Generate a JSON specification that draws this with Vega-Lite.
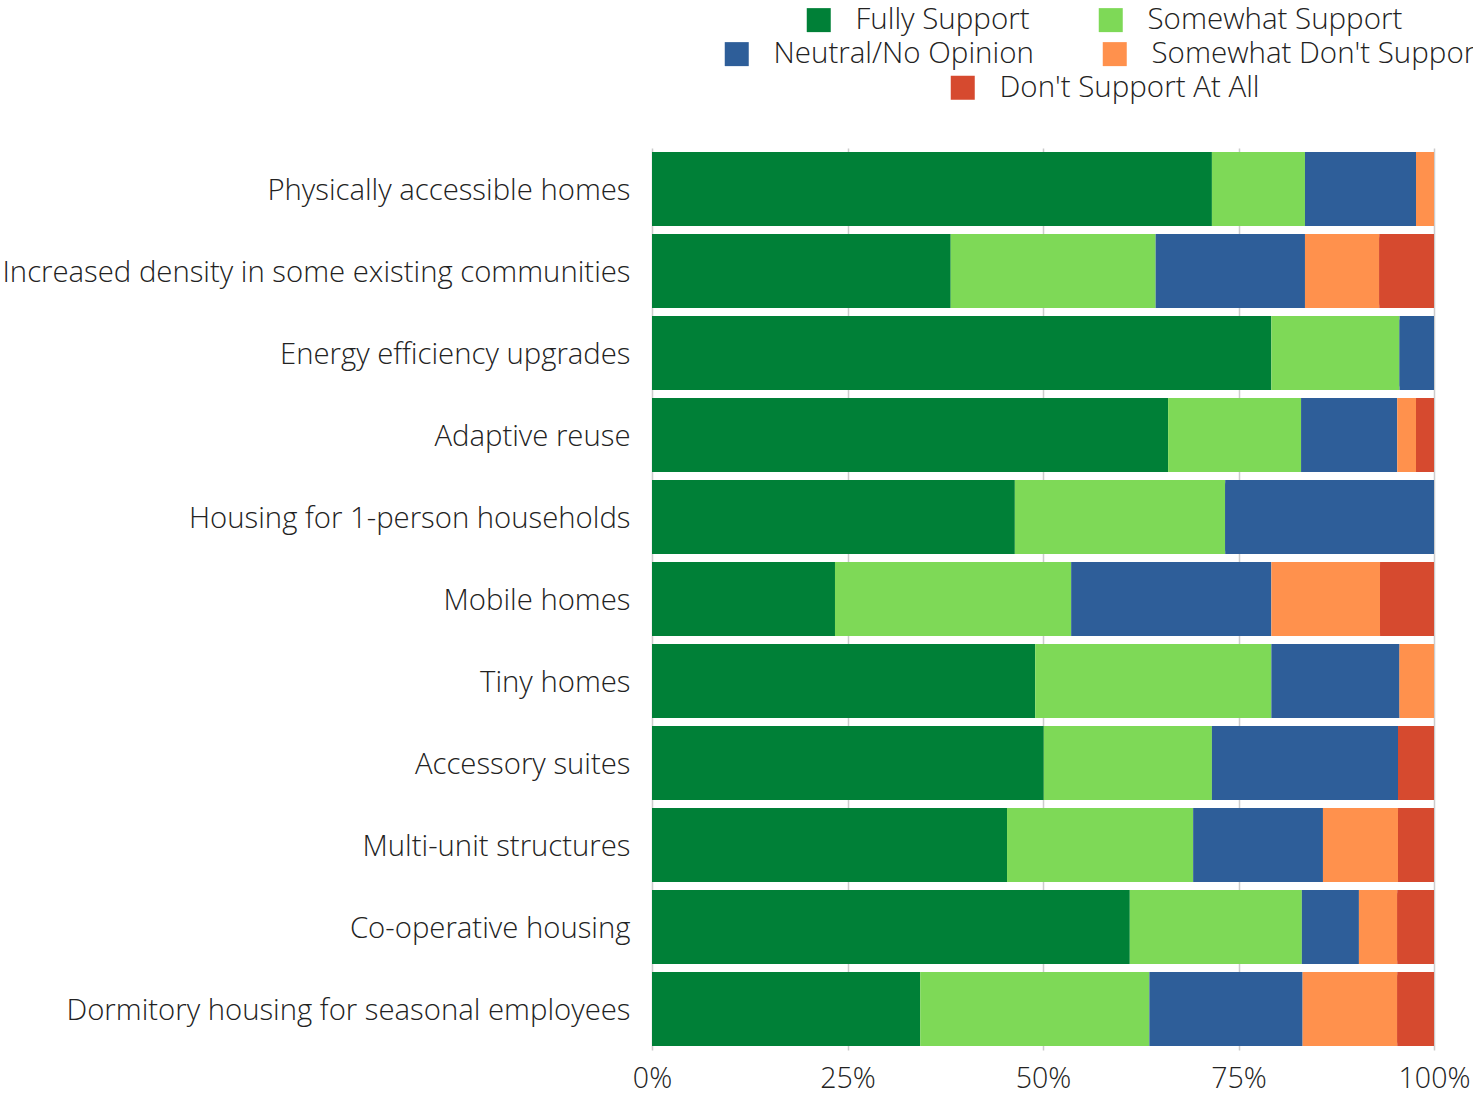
{
  "$schema": "https://vega.github.io/schema/vega-lite/v6.json",
  "autosize": {"type": "none"},
  "width": 782,
  "height": 902,
  "padding": {"left": 652, "top": 148, "right": 39, "bottom": 46},
  "background": "white",
  "config": {
    "view": {"stroke": null},
    "font": "Open Sans",
    "axis": {"labelFont": "Open Sans", "labelFontWeight": 300, "labelColor": "#222222"},
    "legend": {"labelFont": "Open Sans", "labelFontWeight": 300, "labelColor": "#222222"}
  },
  "data": {
    "values": [
      {"item": "Physically accessible homes", "resp": "Fully Support", "ord": 1, "pct": 71.6},
      {"item": "Physically accessible homes", "resp": "Somewhat Support", "ord": 2, "pct": 11.9},
      {"item": "Physically accessible homes", "resp": "Neutral/No Opinion", "ord": 3, "pct": 14.2},
      {"item": "Physically accessible homes", "resp": "Somewhat Don't Support", "ord": 4, "pct": 2.3},
      {"item": "Increased density in some existing communities", "resp": "Fully Support", "ord": 1, "pct": 38.2},
      {"item": "Increased density in some existing communities", "resp": "Somewhat Support", "ord": 2, "pct": 26.2},
      {"item": "Increased density in some existing communities", "resp": "Neutral/No Opinion", "ord": 3, "pct": 19.1},
      {"item": "Increased density in some existing communities", "resp": "Somewhat Don't Support", "ord": 4, "pct": 9.5},
      {"item": "Increased density in some existing communities", "resp": "Don't Support At All", "ord": 5, "pct": 7.0},
      {"item": "Energy efficiency upgrades", "resp": "Fully Support", "ord": 1, "pct": 79.2},
      {"item": "Energy efficiency upgrades", "resp": "Somewhat Support", "ord": 2, "pct": 16.4},
      {"item": "Energy efficiency upgrades", "resp": "Neutral/No Opinion", "ord": 3, "pct": 4.4},
      {"item": "Adaptive reuse", "resp": "Fully Support", "ord": 1, "pct": 66.0},
      {"item": "Adaptive reuse", "resp": "Somewhat Support", "ord": 2, "pct": 17.0},
      {"item": "Adaptive reuse", "resp": "Neutral/No Opinion", "ord": 3, "pct": 12.3},
      {"item": "Adaptive reuse", "resp": "Somewhat Don't Support", "ord": 4, "pct": 2.4},
      {"item": "Adaptive reuse", "resp": "Don't Support At All", "ord": 5, "pct": 2.3},
      {"item": "Housing for 1-person households", "resp": "Fully Support", "ord": 1, "pct": 46.4},
      {"item": "Housing for 1-person households", "resp": "Somewhat Support", "ord": 2, "pct": 26.9},
      {"item": "Housing for 1-person households", "resp": "Neutral/No Opinion", "ord": 3, "pct": 26.7},
      {"item": "Mobile homes", "resp": "Fully Support", "ord": 1, "pct": 23.4},
      {"item": "Mobile homes", "resp": "Somewhat Support", "ord": 2, "pct": 30.2},
      {"item": "Mobile homes", "resp": "Neutral/No Opinion", "ord": 3, "pct": 25.6},
      {"item": "Mobile homes", "resp": "Somewhat Don't Support", "ord": 4, "pct": 13.9},
      {"item": "Mobile homes", "resp": "Don't Support At All", "ord": 5, "pct": 6.9},
      {"item": "Tiny homes", "resp": "Fully Support", "ord": 1, "pct": 49.0},
      {"item": "Tiny homes", "resp": "Somewhat Support", "ord": 2, "pct": 30.2},
      {"item": "Tiny homes", "resp": "Neutral/No Opinion", "ord": 3, "pct": 16.4},
      {"item": "Tiny homes", "resp": "Somewhat Don't Support", "ord": 4, "pct": 4.4},
      {"item": "Accessory suites", "resp": "Fully Support", "ord": 1, "pct": 50.1},
      {"item": "Accessory suites", "resp": "Somewhat Support", "ord": 2, "pct": 21.5},
      {"item": "Accessory suites", "resp": "Neutral/No Opinion", "ord": 3, "pct": 23.8},
      {"item": "Accessory suites", "resp": "Don't Support At All", "ord": 5, "pct": 4.6},
      {"item": "Multi-unit structures", "resp": "Fully Support", "ord": 1, "pct": 45.4},
      {"item": "Multi-unit structures", "resp": "Somewhat Support", "ord": 2, "pct": 23.8},
      {"item": "Multi-unit structures", "resp": "Neutral/No Opinion", "ord": 3, "pct": 16.6},
      {"item": "Multi-unit structures", "resp": "Somewhat Don't Support", "ord": 4, "pct": 9.6},
      {"item": "Multi-unit structures", "resp": "Don't Support At All", "ord": 5, "pct": 4.6},
      {"item": "Co-operative housing", "resp": "Fully Support", "ord": 1, "pct": 61.1},
      {"item": "Co-operative housing", "resp": "Somewhat Support", "ord": 2, "pct": 22.0},
      {"item": "Co-operative housing", "resp": "Neutral/No Opinion", "ord": 3, "pct": 7.3},
      {"item": "Co-operative housing", "resp": "Somewhat Don't Support", "ord": 4, "pct": 4.9},
      {"item": "Co-operative housing", "resp": "Don't Support At All", "ord": 5, "pct": 4.7},
      {"item": "Dormitory housing for seasonal employees", "resp": "Fully Support", "ord": 1, "pct": 34.3},
      {"item": "Dormitory housing for seasonal employees", "resp": "Somewhat Support", "ord": 2, "pct": 29.3},
      {"item": "Dormitory housing for seasonal employees", "resp": "Neutral/No Opinion", "ord": 3, "pct": 19.6},
      {"item": "Dormitory housing for seasonal employees", "resp": "Somewhat Don't Support", "ord": 4, "pct": 12.1},
      {"item": "Dormitory housing for seasonal employees", "resp": "Don't Support At All", "ord": 5, "pct": 4.7}
    ]
  },
  "transform": [
    {"stack": "pct", "groupby": ["item"], "sort": [{"field": "ord", "order": "ascending"}], "as": ["x0", "x1"], "offset": "normalize"}
  ],
  "encoding": {
    "y": {
      "field": "item",
      "type": "nominal",
      "sort": null,
      "title": null,
      "scale": {"paddingInner": 0.0976, "paddingOuter": 0.0488},
      "axis": {"ticks": false, "domain": false, "labelFontSize": 29.3, "labelPadding": 22, "labelLimit": 700, "labelOffset": 2}
    },
    "x": {
      "field": "x0",
      "type": "quantitative",
      "title": null,
      "scale": {"domain": [0, 1]},
      "axis": {"values": [0, 0.25, 0.5, 0.75, 1], "format": ".0%", "ticks": false, "domain": false, "labelFontSize": 28.5, "labelPadding": 14, "labelFlush": false, "labelBound": false, "gridColor": "#cccccc", "gridWidth": 1.5}
    },
    "x2": {"field": "x1"}
  },
  "layer": [
    {
      "transform": [{"filter": "datum.ord <= 2"}],
      "mark": {"type": "bar"},
      "encoding": {
        "color": {
          "field": "resp", "type": "nominal",
          "scale": {"domain": ["Fully Support", "Somewhat Support"], "range": ["#008037", "#7ED957"]},
          "legend": {"title": null, "orient": "none", "direction": "horizontal", "legendX": 152, "legendY": -143, "labelFontSize": 29.5, "labelLimit": 600, "symbolType": "square", "symbolSize": 576, "symbolStrokeWidth": 0, "labelOffset": 22, "columnPadding": 66}
        }
      }
    },
    {
      "transform": [{"filter": "datum.ord == 3 || datum.ord == 4"}],
      "mark": {"type": "bar"},
      "encoding": {
        "color": {
          "field": "resp", "type": "nominal",
          "scale": {"domain": ["Neutral/No Opinion", "Somewhat Don't Support"], "range": ["#2E5E99", "#FF914D"]},
          "legend": {"title": null, "orient": "none", "direction": "horizontal", "legendX": 70, "legendY": -109, "labelFontSize": 29.5, "labelLimit": 600, "symbolType": "square", "symbolSize": 576, "symbolStrokeWidth": 0, "labelOffset": 22, "columnPadding": 66}
        }
      }
    },
    {
      "transform": [{"filter": "datum.ord == 5"}],
      "mark": {"type": "bar"},
      "encoding": {
        "color": {
          "field": "resp", "type": "nominal",
          "scale": {"domain": ["Don't Support At All"], "range": ["#D64A2F"]},
          "legend": {"title": null, "orient": "none", "direction": "horizontal", "legendX": 296, "legendY": -75, "labelFontSize": 29.5, "labelLimit": 600, "symbolType": "square", "symbolSize": 576, "symbolStrokeWidth": 0, "labelOffset": 22}
        }
      }
    },
    {
      "transform": [{"filter": "datum.x1 > 0.9999"}],
      "mark": {"type": "bar", "cornerRadiusEnd": 5},
      "encoding": {
        "color": {
          "field": "resp", "type": "nominal",
          "scale": {"domain": ["Fully Support", "Somewhat Support", "Neutral/No Opinion", "Somewhat Don't Support", "Don't Support At All"], "range": ["#008037", "#7ED957", "#2E5E99", "#FF914D", "#D64A2F"]},
          "legend": null
        }
      }
    }
  ],
  "resolve": {"scale": {"color": "independent"}}
}
